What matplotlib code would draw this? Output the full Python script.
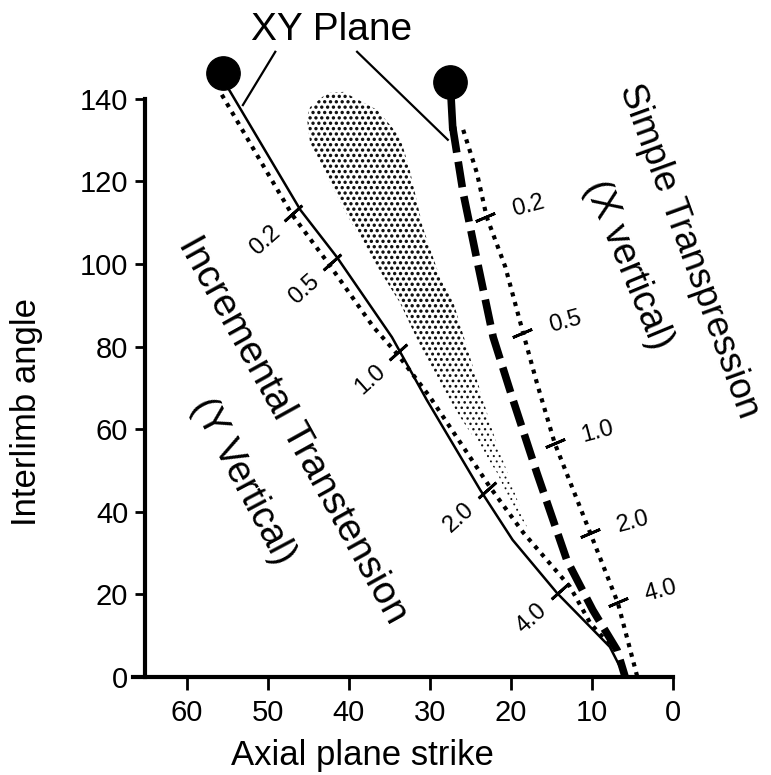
import numpy as np
import matplotlib
matplotlib.use("Agg")
import matplotlib.pyplot as plt
from matplotlib.patches import Polygon

plt.rcParams['font.family'] = ['Liberation Sans', 'DejaVu Sans']

# solid curve (incremental transtension)
solid_x = [54.8, 46.0, 41.5, 34.7, 30.4, 23.8, 19.8, 14.3, 7.8, 5.9]
solid_y = [142.2, 113.1, 101.7, 82.3, 67.1, 45.3, 33.2, 20.3, 7.3, 0]

# dotted curve beside it, with strain ticks
dotl_x = [55.7, 51.0, 47.0, 42.6, 37.0, 33.95, 30.0, 22.6, 18.5, 12.7, 10.2, 7.8]
dotl_y = [141.0, 125.2, 111.9, 100.3, 84.8, 78.0, 67.8, 46.0, 35.0, 21.8, 13.0, 7.7]

# thick dashed curve
thick_x = [27.5, 27.2, 25.9, 24.2, 22.2, 19.75, 16.8, 13.1, 9.9, 6.9, 5.9]
thick_y = [144, 133.2, 117.2, 101, 82.3, 67.1, 49.4, 28.3, 16.2, 6.5, 0]

# dotted curve (simple transpression)
dotr_x = [25.9, 24.2, 23.0, 20.7, 18.5, 16.8, 14.6, 10.2, 6.8, 4.4]
dotr_y = [132.5, 122, 111.4, 99.3, 83.3, 71.2, 56.6, 34.8, 17.9, 0]

strain = ['0.2', '0.5', '1.0', '2.0', '4.0']
tickl_x = [46.9, 42.1, 33.95, 23.0, 14.0]
tickl_y = [112.4, 100.5, 78.7, 45.3, 20.8]
tickr_x = [23.2, 18.6, 14.6, 10.2, 6.8]
tickr_y = [111.4, 83.3, 56.7, 34.9, 18.2]

# XY plane end points
xy_x = [55.6, 27.5]
xy_y = [146.3, 144.1]

# stippled field
field_x = [44.8, 42.7, 40.7, 36.5, 33.7, 32.5, 30.9, 28.8, 27.2, 24.7, 22.2, 19.8,
           18.0, 19.8, 21.7, 23.8, 26.3, 30.0, 33.7, 36.5, 39.9, 42.7, 44.8, 45.2]
field_y = [138.0, 141.4, 141.7, 137.3, 130.8, 122.8, 109.0, 96.9, 91.3, 75.1, 59.1, 46.0,
           36.3, 41.2, 49.4, 55.7, 63.0, 75.1, 90.6, 99.3, 110.7, 121.1, 129.3, 135.4]

fig = plt.figure(figsize=(7.71, 7.75), dpi=100)
ax = fig.add_axes([120 / 771, 75 / 775, 651 / 771, 680 / 775])
ax.set_xlim(68.27, -12.1)
ax.set_ylim(-5.57, 159.1)

# stipple: regular dot screen clipped to the field outline
field = Polygon(np.column_stack([field_x, field_y]), closed=True,
                facecolor='none', edgecolor='none')
ax.add_patch(field)
gy = np.arange(34, 144, 1.3)
gx = np.arange(16, 47, 0.72)
px, py = np.meshgrid(gx, gy)
px = px + (np.arange(len(gy))[:, None] % 2) * 0.36
sizes = np.clip((py - 30) / 60, 0.35, 1.0) * 6
dots = ax.scatter(px.ravel(), py.ravel(), s=sizes.ravel(), color='#111111', lw=0)
dots.set_clip_path(field)

ax.plot(solid_x, solid_y, color='black', lw=1.8, solid_capstyle='round')
ax.plot(dotl_x, dotl_y, color='black', lw=3.0, linestyle=(0, (1, 1.4)))
ax.plot(thick_x[:2], thick_y[:2], color='black', lw=5.5)
ax.plot(thick_x[1:], thick_y[1:], color='black', lw=5.5, linestyle=(0, (3.4, 1.2)))
ax.plot(dotr_x, dotr_y, color='black', lw=3.0, linestyle=(0, (1, 1.4)))
ax.plot(xy_x, xy_y, 'o', color='black', markersize=24, linestyle='none')

ax.plot(tickl_x, tickl_y, linestyle='none', marker=(2, 2, -48), markersize=17,
        markeredgewidth=2, color='black')
ax.plot(tickr_x, tickr_y, linestyle='none', marker=(2, 2, -67), markersize=15,
        markeredgewidth=2, color='black')
for s, x, y in zip(strain, tickl_x, tickl_y):
    ax.annotate(s, (x, y), xytext=(-20, -20), textcoords='offset points',
                ha='center', va='center', rotation=42, fontsize=17)
for s, x, y in zip(strain, tickr_x, tickr_y):
    ax.annotate(s, (x, y), xytext=(31, 8), textcoords='offset points',
                ha='center', va='center', rotation=15, fontsize=17)

# XY plane label and leaders
ax.text(42.1, 156.7, 'XY Plane', ha='center', va='center', fontsize=28)
ax.plot([49.1, 53.1], [151.4, 138.5], color='black', lw=1.6)
ax.plot([39.0, 27.8], [151.4, 130.1], color='black', lw=1.6)

ax.text(47.0, 59.8, 'Incremental Transtension', rotation=-61, ha='center',
        va='center', fontsize=28, rotation_mode='anchor')
ax.text(53.1, 47.5, '(Y Vertical)', rotation=-62, ha='center',
        va='center', fontsize=27, rotation_mode='anchor')
ax.text(-1.9, 103.2, 'Simple Transpression', rotation=-70, ha='center',
        va='center', fontsize=26.5, rotation_mode='anchor')
ax.text(5.6, 99.8, '(X vertical)', rotation=-67.5, ha='center',
        va='center', fontsize=27, rotation_mode='anchor')

# axes styling
for side in ['top', 'right']:
    ax.spines[side].set_visible(False)
ax.spines['left'].set_position(('data', 65.2))
ax.spines['left'].set_bounds(0, 140)
ax.spines['bottom'].set_position(('data', 0))
ax.spines['bottom'].set_bounds(0, 66.7)
ax.spines['left'].set_linewidth(3)
ax.spines['bottom'].set_linewidth(3)
ax.set_xticks(range(60, -1, -10))
ax.set_yticks(range(0, 141, 20))
ax.tick_params(axis='both', width=2, labelsize=21)
ax.tick_params(axis='y', length=7, pad=5)
ax.tick_params(axis='x', length=9, pad=7)

ax.text((362 - 120) / 651, (700 - 756) / 680, 'Axial plane strike', transform=ax.transAxes,
        ha='center', va='center', fontsize=25)
ax.text((27 - 120) / 651, (700 - 412) / 680, 'Interlimb angle', transform=ax.transAxes,
        ha='center', va='center', fontsize=25, rotation=90)

fig.savefig('out.png', dpi=100)
